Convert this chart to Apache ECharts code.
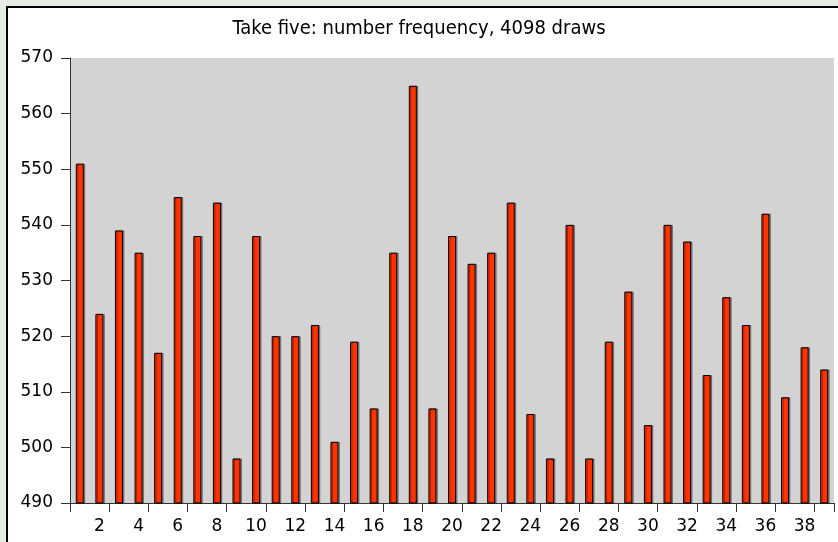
<!DOCTYPE html>
<html>
<head>
<meta charset="utf-8">
<script src="https://cdn.jsdelivr.net/npm/echarts@6/dist/echarts.min.js"></script>
<style>
  html, body { margin: 0; padding: 0; background: #e4eee4; }
  #frame { position: absolute; left: 6px; top: 6px; width: 832px; height: 536px;
           border-left: 2px solid #000; border-top: 2px solid #000; background: #fff; }
  #main { position: absolute; left: -8px; top: -8px; width: 838px; height: 542px; }
</style>
</head>
<body>
<div id="frame"><div id="main"></div></div>
<script>
// numbers 1..39 and how often each was drawn
var numbers = [];
for (var i = 1; i <= 39; i++) numbers.push(String(i));
var counts = [551, 524, 539, 535, 517, 545, 538, 544, 498, 538,
              520, 520, 522, 501, 519, 507, 535, 565, 507, 538,
              533, 535, 544, 506, 498, 540, 498, 519, 528, 504,
              540, 537, 513, 527, 522, 542, 509, 518, 514];
var yTicks = [490, 500, 510, 520, 530, 540, 550, 560, 570];

var font = 'DejaVu Sans';
var option = {
  animation: false,
  title: {
    text: 'Take five: number frequency, 4098 draws',
    left: 'center',
    top: 14,
    textStyle: { fontFamily: 'DejaVu Sans Condensed', fontSize: 20, fontWeight: 'normal', color: '#000' }
  },
  grid: { left: 70, top: 58, right: 4, bottom: 39, show: true,
          backgroundColor: '#d3d3d3', borderWidth: 0 },
  xAxis: {
    type: 'category',
    data: numbers,
    axisLine: { lineStyle: { color: '#333', width: 1 } },
    axisTick: { show: true, length: 9, interval: 1, lineStyle: { color: '#333' } },
    axisLabel: { interval: function (idx) { return idx % 2 === 1; },
                 fontFamily: font, fontSize: 17, color: '#000', margin: 15 }
  },
  yAxis: {
    type: 'value',
    min: yTicks[0],
    max: yTicks[yTicks.length - 1],
    interval: 10,
    axisLine: { show: true, lineStyle: { color: '#333', width: 1 } },
    axisTick: { show: true, length: 9, lineStyle: { color: '#333' } },
    axisLabel: { fontFamily: font, fontSize: 17, color: '#000', margin: 17 },
    splitLine: { show: false }
  },
  series: [{
    type: 'bar',
    data: counts,
    barWidth: 8,
    itemStyle: { color: '#ff3300', borderColor: '#000', borderWidth: 1,
                 shadowColor: 'rgba(0,0,0,0.35)', shadowOffsetX: 1.5 }
  }]
};

var chart = echarts.init(document.getElementById('main'));
chart.setOption(option);
</script>
</body>
</html>
